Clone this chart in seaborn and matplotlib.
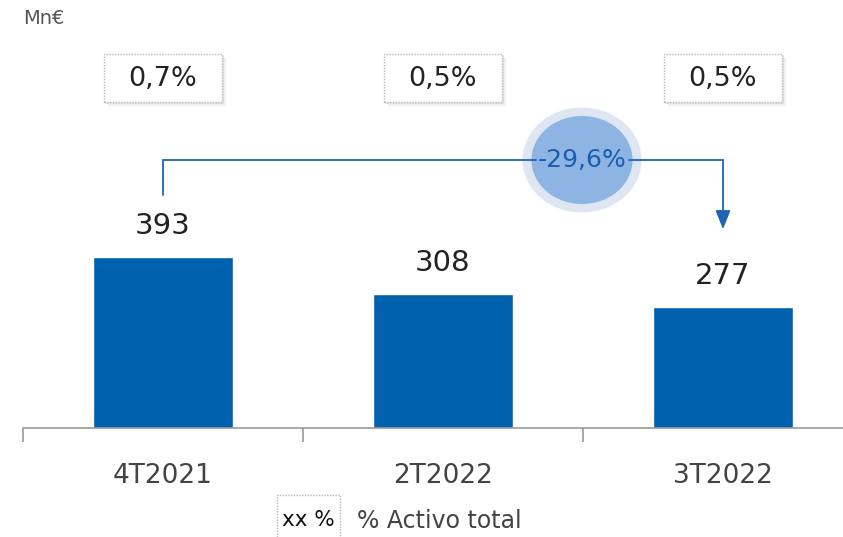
import matplotlib
matplotlib.use("Agg")
import matplotlib.pyplot as plt
import seaborn as sns
import pandas as pd
from matplotlib.patches import Ellipse, Rectangle

categories = ["4T2021", "2T2022", "3T2022"]
values = [393, 308, 277]
pct_labels = ["0,7%", "0,5%", "0,5%"]
variation_label = "-29,6%"
unit_label = "Mn€"
legend_box = "xx %"
legend_text = "% Activo total"

sns.set_theme(style="white")
plt.rcParams['font.family'] = ['DejaVu Sans']

W, H = 843, 537
fig = plt.figure(figsize=(W / 100, H / 100), dpi=100)

def fx(x):
    return x / W

def fy(y):
    return 1 - y / H

# axes: x from 23px spanning 3 categories of 280px; bottom at 428px
ax = fig.add_axes([fx(23), fy(428), 840 / W, 428 / H])
df = pd.DataFrame({"cat": categories, "val": values})
bar_color = "#0061ae"
sns.barplot(data=df, x="cat", y="val", color=bar_color, width=0.5,
            saturation=1, ax=ax)
px_per_unit = 171 / 393
ax.set_ylim(0, 428 / px_per_unit)
ax.set_xlim(-0.5, 2.5)
ax.set_xlabel("")
ax.set_ylabel("")
ax.set_yticks([])
for s in ["top", "right", "left"]:
    ax.spines[s].set_visible(False)
ax.spines["bottom"].set_color("#9a9a9a")
ax.spines["bottom"].set_linewidth(1.2)
ax.set_xticks(range(len(categories)))
ax.set_xticklabels(categories, fontsize=19, color="#444444")
ax.tick_params(axis="x", which="major", length=0, pad=25)
ax.set_xticks([i - 0.5 for i in range(len(categories))], minor=True)
ax.tick_params(axis="x", which="minor", length=10, width=1.2, color="#9a9a9a",
               direction="out", bottom=True)
ax.set_facecolor("white")

def u(px):
    return px / px_per_unit

def xd(px):
    return (px - 23) / 280 - 0.5

# value labels
for i, v in enumerate(values):
    ax.text(i, v + u(31), str(v), ha="center", va="center", fontsize=21,
            color="#222222")

# percentage boxes
for i, t in enumerate(pct_labels):
    cx = 23 + 280 * i + 140
    bw, bh = 118, 48
    for k, c in [(4, "#f0f0f0"), (2, "#e0e0e0")]:
        sh = Rectangle((fx(cx - bw / 2 + k), fy(78 + bh / 2 + k)), bw / W, bh / H,
                       transform=fig.transFigure, facecolor=c, edgecolor="none",
                       zorder=1)
        fig.patches.append(sh)
    r = Rectangle((fx(cx - bw / 2), fy(78 + bh / 2)), bw / W, bh / H,
                  transform=fig.transFigure, facecolor="white", edgecolor="#b8b8b8",
                  linestyle=(0, (1, 1)), linewidth=1, zorder=2)
    fig.patches.append(r)
    fig.text(fx(cx), fy(79), t, ha="center", va="center", fontsize=19.5,
             color="#222222", zorder=3)

# variation arrow
line_color = "#1f65b4"
y_h = u(428 - 160)
y_start = u(428 - 195)
y_end = u(428 - 232)
ax.plot([0, 0, xd(536)], [y_start, y_h, y_h], color=line_color,
        lw=1.3, solid_joinstyle="miter", clip_on=False, zorder=7)
ax.plot([xd(629), 2, 2], [y_h, y_h, y_end + u(14)], color=line_color,
        lw=1.3, solid_joinstyle="miter", clip_on=False, zorder=7)
ax.annotate("", xy=(2, y_end), xytext=(2, y_end + u(16)),
            arrowprops=dict(arrowstyle="-|>,head_width=0.38,head_length=0.95",
                            color=line_color, lw=1.3), zorder=7)

cx_c = xd(582)
cy_c = u(428 - 160)
ax.add_patch(Ellipse((cx_c, cy_c), 119 / 280, u(105), facecolor="#dde6f2",
                     edgecolor="none", zorder=4, clip_on=False))
ax.add_patch(Ellipse((cx_c, cy_c), 101 / 280, u(88), facecolor="#8db4e2",
                     edgecolor="none", zorder=5, clip_on=False))
ax.text(cx_c, cy_c, variation_label, ha="center", va="center", fontsize=18,
        color="#1a5faf", zorder=8)

# unit label
fig.text(fx(23), fy(18), unit_label, ha="left", va="center", fontsize=14,
         color="#555555")

# legend
lb = Rectangle((fx(277), fy(545)), 63 / W, 50 / H, transform=fig.transFigure,
               facecolor="white", edgecolor="#b8b8b8", linestyle=(0, (1, 1)),
               linewidth=1, zorder=2)
fig.patches.append(lb)
fig.text(fx(308.5), fy(520), legend_box, ha="center", va="center", fontsize=15.5,
         color="#111111")
fig.text(fx(357), fy(521), legend_text, ha="left", va="center", fontsize=17,
         color="#444444")

fig.savefig("out.png", dpi=100, facecolor="white")
